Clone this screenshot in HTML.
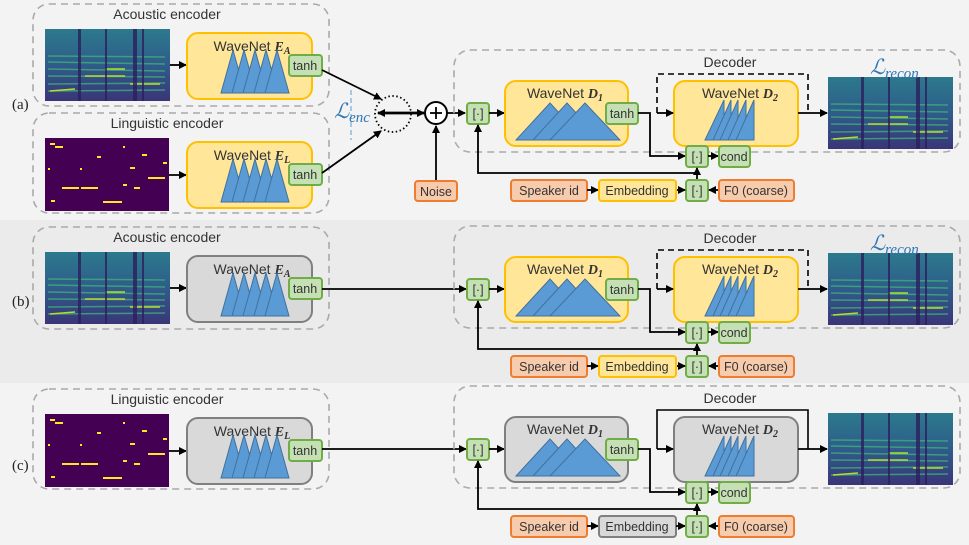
<!DOCTYPE html>
<html><head><meta charset="utf-8"><style>
html,body{margin:0;padding:0;background:#f3f3f3}
svg{display:block;font-family:"Liberation Sans",sans-serif}
.t{font-size:14px;fill:#333;text-anchor:middle}
.s{font-size:12.5px;fill:#333;text-anchor:middle}
.m{font-family:"Liberation Serif",serif;font-style:italic;font-weight:bold}
.dash{fill:none;stroke:#aaa;stroke-width:1.6;stroke-dasharray:7 5}
.ln{fill:none;stroke:#000;stroke-width:1.8}
.gr{fill:#c5e0b4;stroke:#70ad47;stroke-width:2}
.or{fill:#f8cbad;stroke:#ed7d31;stroke-width:2}
.tri{fill:#5b9bd5;stroke:#41719c;stroke-width:1}
.L{font-family:"Liberation Serif",serif;font-style:italic;font-size:21px;fill:#2e75b6}
</style></head><body>
<svg width="969" height="545" viewBox="0 0 969 545" xmlns="http://www.w3.org/2000/svg">
<defs>
<marker id="ar" markerWidth="8" markerHeight="8" refX="7" refY="4" orient="auto" markerUnits="userSpaceOnUse"><path d="M0,0 L8,4 L0,8 z" fill="#000"/></marker>
<marker id="ars" markerWidth="8" markerHeight="8" refX="1" refY="4" orient="auto" markerUnits="userSpaceOnUse"><path d="M8,0 L0,4 L8,8 z" fill="#000"/></marker>
<linearGradient id="sg" x1="0" y1="0" x2="0" y2="1"><stop offset="0" stop-color="#2b7a8c"/><stop offset="0.5" stop-color="#2f5c8a"/><stop offset="1" stop-color="#3a3578"/></linearGradient>
<g id="spec">
<rect width="125" height="72" fill="url(#sg)"/>
<g stroke="#3fae7a" stroke-width="1.5" opacity="0.8">
<line x1="3" y1="40" x2="120" y2="42"/><line x1="3" y1="47" x2="120" y2="48"/><line x1="3" y1="55" x2="120" y2="54"/><line x1="3" y1="62" x2="120" y2="61"/><line x1="3" y1="33" x2="120" y2="35"/><line x1="3" y1="27" x2="120" y2="28"/>
</g>
<g stroke="#b5de2b" stroke-width="1.5"><line x1="40" y1="47" x2="80" y2="47"/><line x1="60" y1="40" x2="80" y2="40"/><line x1="5" y1="62" x2="30" y2="60"/><line x1="85" y1="55" x2="115" y2="55"/></g>
<g fill="#2c1f5e" opacity="0.8"><rect x="33" y="0" width="3" height="72"/><rect x="60" y="0" width="2" height="72"/><rect x="88" y="0" width="4" height="72"/><rect x="97" y="0" width="2" height="72"/></g>
</g>
<g id="ling">
<rect width="124" height="73" fill="#440154"/>
<g fill="#fde725"><rect x="5" y="5" width="5" height="2"/><rect x="10" y="8" width="8" height="2"/><rect x="78" y="8" width="2" height="2"/><rect x="52" y="18" width="4" height="2"/><rect x="97" y="16" width="5" height="2"/><rect x="17" y="49" width="17" height="2"/><rect x="36" y="49" width="17" height="2"/><rect x="58" y="63" width="19" height="2"/><rect x="103" y="39" width="17" height="2"/><rect x="85" y="29" width="5" height="2"/><rect x="78" y="46" width="4" height="2"/><rect x="89" y="49" width="6" height="2"/><rect x="35" y="30" width="2" height="2"/><rect x="6" y="62" width="4" height="2"/><rect x="3" y="30" width="2" height="2"/><rect x="118" y="24" width="4" height="2"/></g>
</g>
<g id="tris">
<polygon class="tri" points="221,93 233,50 245,93"/><polygon class="tri" points="232,93 244,50 256,93"/><polygon class="tri" points="243,93 255,50 267,93"/><polygon class="tri" points="254,93 266,50 278,93"/><polygon class="tri" points="265,93 277,50 289,93"/>
</g>
<g id="mount">
<polygon class="tri" points="516,140 550,103 584,140"/><polygon class="tri" points="533,140 567,103 601,140"/><polygon class="tri" points="550,140 585,103 620,140"/>
</g>
<g id="saw">
<polygon class="tri" points="705,140 724,100 724,140"/><polygon class="tri" points="713,140 731,100 731,140"/><polygon class="tri" points="720,140 738,100 738,140"/><polygon class="tri" points="728,140 746,100 746,140"/><polygon class="tri" points="736,140 754,100 754,140"/>
</g>
</defs>

<rect x="0" y="0" width="969" height="220" fill="#f3f3f3"/>
<rect x="0" y="220" width="969" height="163" fill="#ebebeb"/>
<rect x="0" y="383" width="969" height="162" fill="#f3f3f3"/>

<text x="12" y="109" font-family="Liberation Serif" font-size="15" fill="#222">(a)</text>
<text x="12" y="306" font-family="Liberation Serif" font-size="15" fill="#222">(b)</text>
<text x="12" y="470" font-family="Liberation Serif" font-size="15" fill="#222">(c)</text>

<!-- ===== (a) acoustic encoder ===== -->
<rect class="dash" x="33" y="4" width="296" height="102" rx="16"/>
<text class="t" x="167" y="19">Acoustic encoder</text>
<use href="#spec" x="45" y="29"/>
<line class="ln" x1="170" y1="65" x2="186" y2="65" marker-end="url(#ar)"/>
<rect x="187" y="33" width="125" height="66" rx="11" fill="#ffe699" stroke="#ffc000" stroke-width="2"/>
<text class="t" x="252" y="51">WaveNet <tspan class="m">E</tspan><tspan class="m" font-size="10" dy="3">A</tspan></text>
<use href="#tris"/>
<rect class="gr" x="289" y="55" width="33" height="21" rx="3"/><text class="s" x="305" y="70">tanh</text>
<rect class="dash" x="33" y="113" width="296" height="100" rx="16"/>
<text class="t" x="167" y="128">Linguistic encoder</text>
<use href="#ling" x="45" y="138"/>
<line class="ln" x1="169" y1="175" x2="186" y2="175" marker-end="url(#ar)"/>
<rect x="187" y="142" width="125" height="66" rx="11" fill="#ffe699" stroke="#ffc000" stroke-width="2"/>
<text class="t" x="252" y="160">WaveNet <tspan class="m">E</tspan><tspan class="m" font-size="10" dy="3">L</tspan></text>
<use href="#tris" y="109"/>
<rect class="gr" x="289" y="164" width="33" height="21" rx="3"/><text class="s" x="305" y="179">tanh</text>
<line class="ln" x1="322" y1="70" x2="381" y2="99" marker-end="url(#ar)"/>
<line class="ln" x1="322" y1="173" x2="381" y2="131" marker-end="url(#ar)"/>
<circle cx="393" cy="114" r="18" fill="none" stroke="#000" stroke-width="1.8" stroke-dasharray="1.5 2.5"/>
<line x1="351" y1="90" x2="351" y2="140" stroke="#5b9bd5" stroke-width="1" stroke-dasharray="5 3"/>
<text class="L" x="334" y="118">ℒ<tspan font-size="15" dy="4">enc</tspan></text>
<line x1="378" y1="113" x2="424" y2="113" stroke="#000" stroke-width="2.8" marker-start="url(#ars)" marker-end="url(#ar)"/>
<circle cx="436" cy="113" r="11" fill="#fff" stroke="#000" stroke-width="2"/>
<line x1="430" y1="113" x2="442" y2="113" stroke="#000" stroke-width="1.8"/><line x1="436" y1="107" x2="436" y2="119" stroke="#000" stroke-width="1.8"/>
<line class="ln" x1="436" y1="180" x2="436" y2="126" marker-end="url(#ar)"/>
<rect class="or" x="415" y="181" width="42" height="20" rx="3"/><text class="s" x="436" y="196">Noise</text>
<line class="ln" x1="447" y1="113" x2="465" y2="113" marker-end="url(#ar)"/>

<g id="dec">
<rect class="dash" x="454" y="50" width="506" height="102" rx="16"/>
<text class="t" x="730" y="67">Decoder</text>
<rect class="gr" x="467" y="103" width="22" height="21" rx="3"/><text class="s" x="478" y="118">[·]</text>
<line class="ln" x1="489" y1="113" x2="504" y2="113" marker-end="url(#ar)"/>
<rect x="505" y="81" width="123" height="65" rx="11" fill="#ffe699" stroke="#ffc000" stroke-width="2"/>
<text class="t" x="565" y="98">WaveNet <tspan class="m">D</tspan><tspan class="m" font-size="10" dy="3">1</tspan></text>
<use href="#mount"/>
<rect class="gr" x="606" y="103" width="32" height="21" rx="3"/><text class="s" x="622" y="118">tanh</text>
<polyline class="ln" points="638,113 650,113 650,156 685,156" marker-end="url(#ar)"/>
<rect x="674" y="81" width="124" height="65" rx="11" fill="#ffe699" stroke="#ffc000" stroke-width="2"/>
<text class="t" x="740" y="98">WaveNet <tspan class="m">D</tspan><tspan class="m" font-size="10" dy="3">2</tspan></text>
<use href="#saw"/>
<rect class="gr" x="686" y="146" width="22" height="21" rx="3"/><text class="s" x="697" y="161">[·]</text>
<line class="ln" x1="708" y1="156" x2="718" y2="156" marker-end="url(#ar)"/>
<rect class="gr" x="719" y="146" width="31" height="21" rx="3"/><text class="s" x="734" y="161">cond</text>
<line class="ln" x1="798" y1="113" x2="827" y2="113" marker-end="url(#ar)"/>
<use href="#spec" x="828" y="77"/>
<polyline class="ln" points="697,180 697,173 478,173 478,125" marker-end="url(#ar)"/>
<line class="ln" x1="697" y1="173" x2="697" y2="168" marker-end="url(#ar)"/>
<rect class="or" x="511" y="180" width="76" height="21" rx="3"/><text class="s" x="549" y="195">Speaker id</text>
<line class="ln" x1="587" y1="190" x2="598" y2="190" marker-end="url(#ar)"/>
<rect class="gr" x="686" y="180" width="22" height="21" rx="3"/><text class="s" x="697" y="195">[·]</text>
<line class="ln" x1="676" y1="190" x2="685" y2="190" marker-end="url(#ar)"/>
<line class="ln" x1="719" y1="190" x2="709" y2="190" marker-end="url(#ar)"/>
<rect class="or" x="719" y="180" width="75" height="21" rx="3"/><text class="s" x="756" y="195">F0 (coarse)</text>
</g>
<rect x="599" y="180" width="77" height="21" rx="3" fill="#ffe699" stroke="#ffc000" stroke-width="2"/><text class="s" x="637" y="195">Embedding</text>
<polyline points="657,113 657,74 808,74 808,113" fill="none" stroke="#000" stroke-width="1.6" stroke-dasharray="6 4"/>
<line class="ln" x1="657" y1="113" x2="673" y2="113" marker-end="url(#ar)"/>
<text class="L" x="870" y="74">ℒ<tspan font-size="15" dy="4">recon</tspan></text>

<!-- ===== (b) ===== -->
<g transform="translate(0,223)">
<rect class="dash" x="33" y="4" width="296" height="102" rx="16"/>
<text class="t" x="167" y="19">Acoustic encoder</text>
<use href="#spec" x="45" y="29"/>
<line class="ln" x1="170" y1="65" x2="186" y2="65" marker-end="url(#ar)"/>
<rect x="187" y="33" width="125" height="66" rx="11" fill="#d9d9d9" stroke="#7f7f7f" stroke-width="2"/>
<text class="t" x="252" y="51">WaveNet <tspan class="m">E</tspan><tspan class="m" font-size="10" dy="3">A</tspan></text>
<use href="#tris"/>
<rect class="gr" x="289" y="55" width="33" height="21" rx="3"/><text class="s" x="305" y="70">tanh</text>
</g>
<line class="ln" x1="322" y1="289" x2="466" y2="289" marker-end="url(#ar)"/>
<g transform="translate(0,176)">
<use href="#dec"/>
<rect x="599" y="180" width="77" height="21" rx="3" fill="#ffe699" stroke="#ffc000" stroke-width="2"/><text class="s" x="637" y="195">Embedding</text>
<polyline points="657,113 657,74 808,74 808,113" fill="none" stroke="#000" stroke-width="1.6" stroke-dasharray="6 4"/>
<line class="ln" x1="657" y1="113" x2="673" y2="113" marker-end="url(#ar)"/>
<text class="L" x="870" y="74">ℒ<tspan font-size="15" dy="4">recon</tspan></text>
</g>

<!-- ===== (c) ===== -->
<g transform="translate(0,276)">
<rect class="dash" x="33" y="113" width="296" height="100" rx="16"/>
<text class="t" x="167" y="128">Linguistic encoder</text>
<use href="#ling" x="45" y="138"/>
<line class="ln" x1="169" y1="175" x2="186" y2="175" marker-end="url(#ar)"/>
<rect x="187" y="142" width="125" height="66" rx="11" fill="#d9d9d9" stroke="#7f7f7f" stroke-width="2"/>
<text class="t" x="252" y="160">WaveNet <tspan class="m">E</tspan><tspan class="m" font-size="10" dy="3">L</tspan></text>
<use href="#tris" y="109"/>
<rect class="gr" x="289" y="164" width="33" height="21" rx="3"/><text class="s" x="305" y="179">tanh</text>
</g>
<line class="ln" x1="322" y1="449" x2="466" y2="449" marker-end="url(#ar)"/>
<g transform="translate(0,336)">
<rect class="dash" x="454" y="50" width="506" height="102" rx="16"/>
<text class="t" x="730" y="67">Decoder</text>
<rect class="gr" x="467" y="103" width="22" height="21" rx="3"/><text class="s" x="478" y="118">[·]</text>
<line class="ln" x1="489" y1="113" x2="504" y2="113" marker-end="url(#ar)"/>
<rect x="505" y="81" width="123" height="65" rx="11" fill="#d9d9d9" stroke="#7f7f7f" stroke-width="2"/>
<text class="t" x="565" y="98">WaveNet <tspan class="m">D</tspan><tspan class="m" font-size="10" dy="3">1</tspan></text>
<use href="#mount"/>
<rect class="gr" x="606" y="103" width="32" height="21" rx="3"/><text class="s" x="622" y="118">tanh</text>
<polyline class="ln" points="638,113 650,113 650,156 685,156" marker-end="url(#ar)"/>
<rect x="674" y="81" width="124" height="65" rx="11" fill="#d9d9d9" stroke="#7f7f7f" stroke-width="2"/>
<text class="t" x="740" y="98">WaveNet <tspan class="m">D</tspan><tspan class="m" font-size="10" dy="3">2</tspan></text>
<use href="#saw"/>
<rect class="gr" x="686" y="146" width="22" height="21" rx="3"/><text class="s" x="697" y="161">[·]</text>
<line class="ln" x1="708" y1="156" x2="718" y2="156" marker-end="url(#ar)"/>
<rect class="gr" x="719" y="146" width="31" height="21" rx="3"/><text class="s" x="734" y="161">cond</text>
<line class="ln" x1="798" y1="113" x2="827" y2="113" marker-end="url(#ar)"/>
<use href="#spec" x="828" y="77"/>
<polyline class="ln" points="697,180 697,173 478,173 478,125" marker-end="url(#ar)"/>
<line class="ln" x1="697" y1="173" x2="697" y2="168" marker-end="url(#ar)"/>
<rect class="or" x="511" y="180" width="76" height="21" rx="3"/><text class="s" x="549" y="195">Speaker id</text>
<line class="ln" x1="587" y1="190" x2="598" y2="190" marker-end="url(#ar)"/>
<rect x="599" y="180" width="77" height="21" rx="3" fill="#d9d9d9" stroke="#7f7f7f" stroke-width="2"/><text class="s" x="637" y="195">Embedding</text>
<line class="ln" x1="676" y1="190" x2="685" y2="190" marker-end="url(#ar)"/>
<rect class="gr" x="686" y="180" width="22" height="21" rx="3"/><text class="s" x="697" y="195">[·]</text>
<line class="ln" x1="719" y1="190" x2="709" y2="190" marker-end="url(#ar)"/>
<rect class="or" x="719" y="180" width="75" height="21" rx="3"/><text class="s" x="756" y="195">F0 (coarse)</text>
<polyline points="657,113 657,74 808,74 808,113" fill="none" stroke="#000" stroke-width="1.6"/>
<line class="ln" x1="657" y1="113" x2="673" y2="113" marker-end="url(#ar)"/>
</g>
</svg>
</body></html>
